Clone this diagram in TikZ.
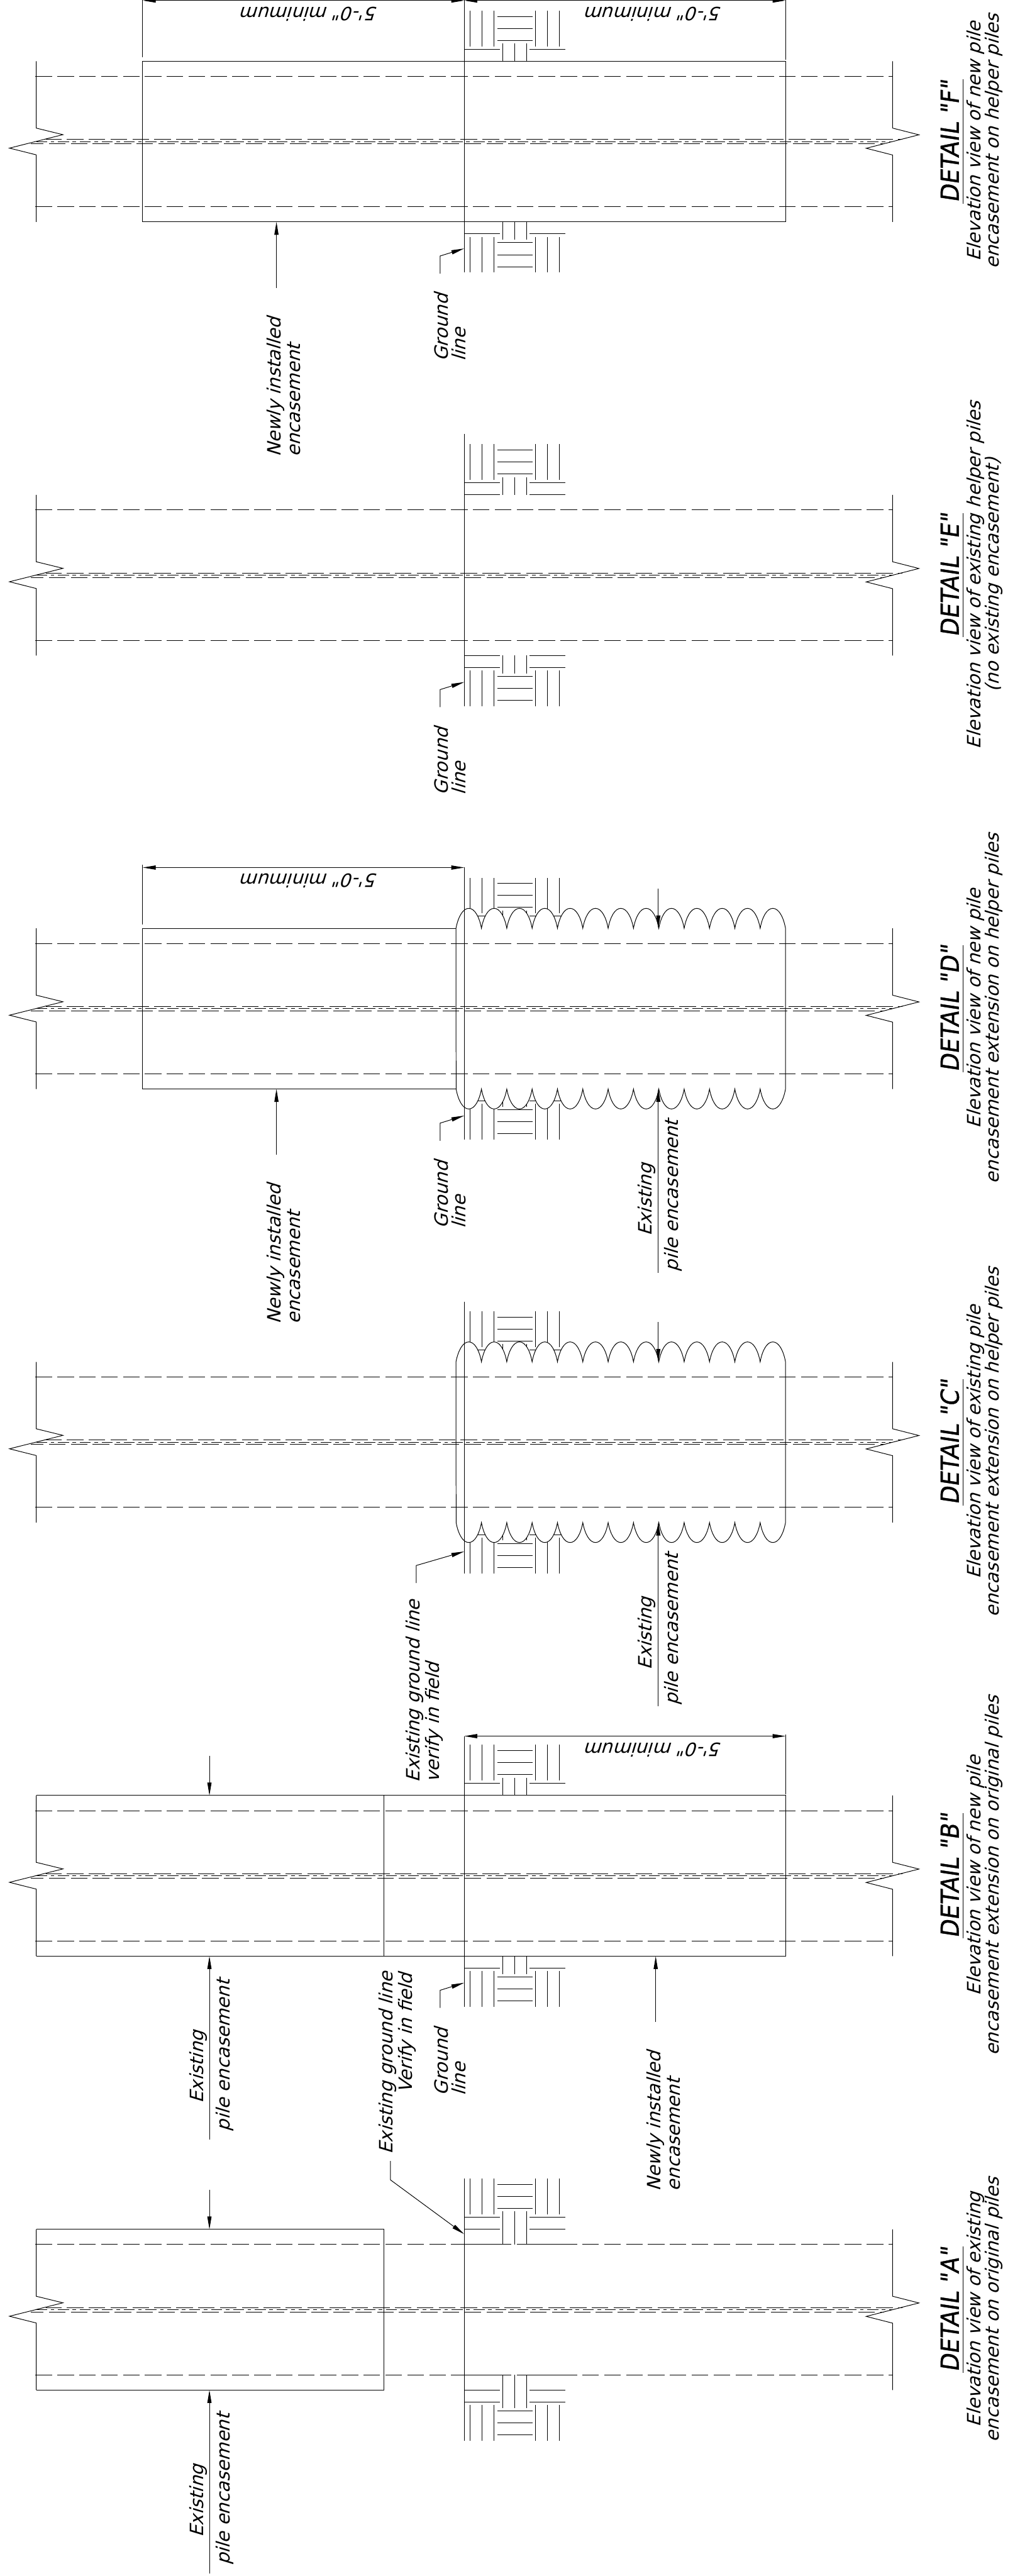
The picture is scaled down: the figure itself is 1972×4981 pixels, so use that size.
\documentclass[tikz,border=0pt]{standalone}
\usepackage{fontspec}
\usetikzlibrary{arrows.meta}
\newfontfamily\labfont{DejaVu Sans}[FakeSlant=0.3]
\newfontfamily\titfont{DejaVu Sans}[FakeSlant=0.15,FakeStretch=0.93,FakeBold=1]
\tikzset{
  ln/.style={line width=1.2pt,black},
  pdash/.style={ln,dash pattern=on 32pt off 10.3pt},
  cdash/.style={ln,dash pattern=on 21pt off 7pt on 7pt off 7.3pt},
  tipped/.style={ln,-{Triangle[length=25pt,width=8pt]}},
  dimline/.style={ln,{Triangle[length=25pt,width=8pt]}-{Triangle[length=25pt,width=8pt]}},
  lab/.style={inner sep=0pt,rotate=90,anchor=base west,font=\labfont\fontsize{35.5}{36}\selectfont},
  sublab/.style={inner sep=0pt,rotate=90,anchor=base,font=\labfont\fontsize{35.5}{36}\selectfont},
  titlab/.style={inner sep=0pt,rotate=90,anchor=base,font=\titfont\fontsize{48}{48}\selectfont},
  dimlab/.style={inner sep=0pt,rotate=180,anchor=center,font=\labfont\fontsize{35.5}{36}\selectfont},
}
% #1 edge y, #2 outward sign, #3 inner extent
\newcommand{\hatchblock}[3]{
  \foreach \xx in {909.3,932.7,955.3,1036,1059,1082}
    \draw[ln] (\xx,{#1+#2*29}) -- (\xx,{#1+#2*98});
  \foreach \dd in {40.3,63.6,86.6}
    \draw[ln] (961.3,{#1+#2*\dd}) -- (1030,{#1+#2*\dd});
  \foreach \dd in {23.3,0,-#3}{
    \draw[ln] (897.7,{#1+#2*\dd}) -- (966.7,{#1+#2*\dd});
    \draw[ln] (1024.5,{#1+#2*\dd}) -- (1093.5,{#1+#2*\dd});
  }
  \foreach \xx in {972.7,995.7,1018.7}
    \draw[ln] (\xx,{#1+#2*34.6}) -- (\xx,{#1-#2*#3});
}
% #1 centre y
\newcommand{\pilebody}[1]{
  \draw[ln] (70,{#1-155.3}) -- (70,{#1-26}) -- (121.7,{#1-13.3}) -- (18.3,{#1+12.7}) -- (70,{#1+25.7}) -- (70,{#1+155.3});
  \draw[ln] (1726,{#1-155.3}) -- (1726,{#1-26}) -- (1777,{#1-13}) -- (1675,{#1+13}) -- (1726,{#1+26}) -- (1726,{#1+155.3});
  \draw[pdash] (68.6,{#1-126}) -- (1726,{#1-126});
  \draw[pdash] (68.6,{#1+126}) -- (1726,{#1+126});
  \draw[pdash,dash phase=2pt] (89,{#1-4.3}) -- (1745,{#1-4.3});
  \draw[pdash,dash phase=7.6pt] (60,{#1+4.3}) -- (1710,{#1+4.3});
  \draw[cdash] (70,#1) -- (1726,#1);
}
% #1 top edge, #2 bottom edge
\newcommand{\casing}[2]{
  \filldraw[ln,fill=white] (881.7,#1)
    \foreach \kk in {0,...,12}{
      .. controls ({882+49*\kk+4},{#1-22}) and ({882+49*\kk+13},{#1-38.6}) .. ({882+49*\kk+24.5},{#1-38.6})
      .. controls ({882+49*\kk+36},{#1-38.6}) and ({882+49*\kk+45},{#1-22}) .. ({882+49*\kk+49},#1)
    }
    -- (1519,#2)
    \foreach \kk in {12,11,...,0}{
      .. controls ({882+49*\kk+45},{#2+22}) and ({882+49*\kk+36},{#2+38.6}) .. ({882+49*\kk+24.5},{#2+38.6})
      .. controls ({882+49*\kk+13},{#2+38.6}) and ({882+49*\kk+4},{#2+22}) .. ({882+49*\kk},#2)
    }
    -- cycle;
}
% #1 prefix, #2 bottom edge
\newcommand{\gleader}[2]{
  \coordinate (#1gs) at (851,{#2+100});
  \coordinate (#1gb) at (851,{#2+66});
  \coordinate (#1gt) at (897.7,{#2+51.5});
  \draw[tipped] (#1gs) -- (#1gb) -- (#1gt);
  \node[lab] (#1gl1) at (866,{#2+270}) {Ground};
  \node[lab] (#1gl2) at (901,{#2+270}) {line};
}
% #1 prefix, #2 centre, #3 half underline, #4 title, #5, #6 lines
\newcommand{\titleblock}[6]{
  \node[titlab] (#1tt) at (1854,#2) {#4};
  \coordinate (#1ua) at (1862,{#2-#3});
  \coordinate (#1ub) at (1862,{#2+#3});
  \draw[ln] (#1ua) -- (#1ub);
  \node[sublab] (#1s1) at (1897,#2) {#5};
  \node[sublab] (#1s2) at (1932,#2) {#6};
}
% #1 prefix, #2 x of leader, #3 top edge, #4 bottom edge, #5 x existing, #6 x pile, #7 offset pile, #8 tail
\newcommand{\existlab}[8]{
  \coordinate (#1ea) at (#2,{#3-77});
  \coordinate (#1eb) at (#2,#3);
  \coordinate (#1ec) at (#2,{#4+#8});
  \coordinate (#1ed) at (#2,#4);
  \draw[tipped] (#1ea) -- (#1eb);
  \draw[tipped] (#1ec) -- (#1ed);
  \node[lab] (#1e1) at (#5,{#4+285}) {Existing};
  \node[lab] (#1e2) at (#6,{#4+#7}) {pile encasement};
}
% #1 prefix, #2 x leader, #3 bottom edge, #4, #5 baselines
\newcommand{\newlab}[5]{
  \coordinate (#1na) at (#2,{#3+127.5});
  \coordinate (#1nb) at (#2,#3);
  \draw[tipped] (#1na) -- (#1nb);
  \node[lab] (#1n1) at (#4,{#3+455}) {Newly installed};
  \node[lab] (#1n2) at (#5,{#3+455}) {encasement};
}
% #1 prefix, #2 x left, #3 x right, #4 y, #5 x of label
\newcommand{\dimblock}[5]{
  \coordinate (#1da) at (#2,#4);
  \coordinate (#1db) at (#3,#4);
  \draw[dimline] (#1da) -- (#1db);
  \node[dimlab] (#1dl) at (#5,{#4+26}) {5'-0" minimum};
}
\newcommand{\extline}[3]{\draw[ln] (#1,#2) -- (#1,#3);}
\begin{document}
\begin{tikzpicture}[x=1pt,y=-1pt]
\useasboundingbox (0,0) rectangle (1972,4981);
\clip (0,0) rectangle (1972,4981);
\fill[white] (0,0) rectangle (1972,4981);
% ---------- Detail F
\hatchblock{118.4}{-1}{0}
\hatchblock{429}{1}{0}
\pilebody{273.7}
\draw[ln] (897.7,0) -- (897.7,526.7);
\draw[ln] (276,118.4) rectangle (1519,429);
\dimblock{Fl}{276}{897.7}{1}{599}
\dimblock{Fr}{897.7}{1519}{1}{1265}
\extline{276}{0}{111}
\extline{1519}{0}{115}
\gleader{F}{429}
\newlab{F}{534.6}{429}{543}{581}
\titleblock{F}{273.7}{120}{DETAIL "F"}{Elevation view of new pile}{encasement on helper piles}
% ---------- Detail E
\hatchblock{957}{-1}{0}
\hatchblock{1267.4}{1}{0}
\pilebody{1112.2}
\draw[ln] (897.7,839) -- (897.7,1365.4);
\gleader{E}{1267.4}
\titleblock{E}{1112.2}{120}{DETAIL "E"}{Elevation view of existing helper piles}{(no existing encasement)}
% ---------- Detail D
\hatchblock{1795}{-1}{0}
\hatchblock{2105.7}{1}{0}
\casing{1795}{2105.7}
\pilebody{1950.3}
\draw[ln] (897.7,1677.5) -- (897.7,2203);
\draw[ln] (881.7,1795) -- (276,1795) -- (276,2105.7) -- (881.7,2105.7);
\dimblock{D}{276}{897.7}{1677.5}{599}
\extline{276}{1672}{1788}
\gleader{D}{2105.7}
\newlab{D}{534.6}{2105.7}{543}{581}
\existlab{D}{1273}{1795}{2105.7}{1261}{1312}{354}{355}
\titleblock{D}{1950.3}{123}{DETAIL "D"}{Elevation view of new pile}{encasement extension on helper piles}
% ---------- Detail C
\hatchblock{2633.3}{-1}{0}
\hatchblock{2944}{1}{0}
\casing{2633.3}{2944}
\pilebody{2788.7}
\draw[ln] (897.7,2516.7) -- (897.7,3042);
\existlab{C}{1273}{2633.3}{2944}{1261}{1312}{354}{355}
\coordinate (Cgs) at (805,3061);
\coordinate (Cgb) at (805,3027);
\coordinate (Cgt) at (897.7,3000);
\draw[tipped] (Cgs) -- (Cgb) -- (Cgt);
\node[lab] (Cgl1) at (812,3447) {Existing ground line};
\node[lab] (Cgl2) at (849,3447) {verify in field};
\titleblock{C}{2788.7}{122}{DETAIL "C"}{Elevation view of existing pile}{encasement extension on helper piles}
% ---------- Detail B
\hatchblock{3471.8}{-1}{0}
\hatchblock{3782.4}{1}{0}
\pilebody{3627}
\draw[ln] (897.7,3357) -- (897.7,3880);
\draw[ln] (70,3471.8) -- (1519,3471.8) -- (1519,3782.4) -- (70,3782.4);
\draw[ln] (742,3471.8) -- (742,3782.4);
\dimblock{B}{897.7}{1519}{3357}{1265}
\extline{1519}{3354}{3469}
\gleader{B}{3782.4}
\newlab{B}{1268}{3782.4}{1277}{1315}
\existlab{B}{405}{3471.8}{3782.4}{393}{444}{339}{355}
\node[lab] (Bv1) at (760,4166) {Existing ground line};
\node[lab] (Bv2) at (797,4048) {Verify in field};
\titleblock{B}{3627}{121}{DETAIL "B"}{Elevation view of new pile}{encasement extension on original piles}
% ---------- Detail A
\hatchblock{4310.7}{-1}{29.3}
\hatchblock{4621.4}{1}{29.3}
\pilebody{4466}
\draw[ln] (897.7,4212) -- (897.7,4719);
\draw[ln] (70,4310.7) -- (742,4310.7) -- (742,4621.4) -- (70,4621.4);
\coordinate (Ags) at (755,4178.6);
\coordinate (Agb) at (755,4215);
\coordinate (Agt) at (897.7,4320);
\draw[tipped] (Ags) -- (Agb) -- (Agt);
\existlab{A}{405}{4310.7}{4621.4}{393}{444}{339}{355}
\titleblock{A}{4466}{122}{DETAIL "A"}{Elevation view of existing}{encasement on original piles}
\end{tikzpicture}
\end{document}
